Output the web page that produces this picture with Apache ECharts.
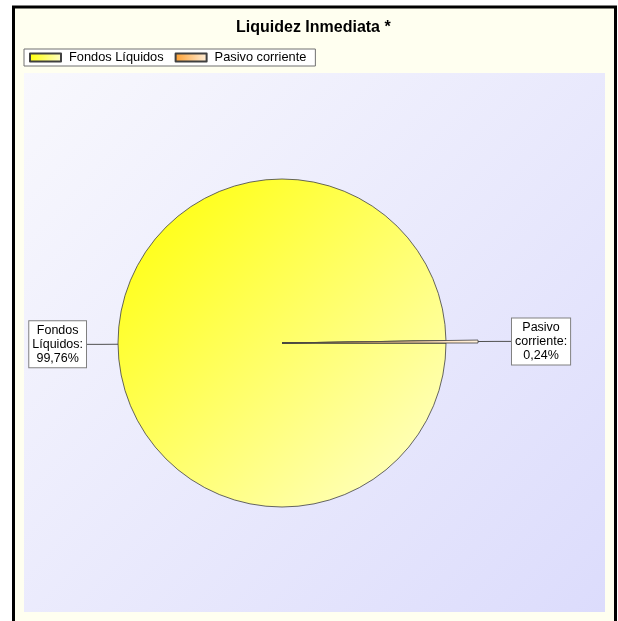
<!DOCTYPE html>
<html>
<head>
<meta charset="utf-8">
<script src="https://cdn.jsdelivr.net/npm/echarts@6/dist/echarts.min.js"></script>
<style>
  html, body { margin: 0; padding: 0; background: #ffffff; }
  #chart { width: 618px; height: 621px; }
</style>
</head>
<body>
<div id="chart"></div>
<script>
// chart data
const categories = ['Fondos Líquidos', 'Pasivo corriente']
const shares = [99.76, 0.24]

const fondosColor = new echarts.graphic.LinearGradient(0, 0, 1, 1, [
  { offset: 0, color: '#ffff00' },
  { offset: 1, color: '#ffffd0' }
])
const pasivoColor = new echarts.graphic.LinearGradient(0, 0, 1, 0, [
  { offset: 0, color: '#ffa030' },
  { offset: 1, color: '#fff0dc' }
])
const sliceColors = [fondosColor, pasivoColor]

// one rich token per line so each line can be centred inside the box
function fmtLabel(p) {
  const lines = [p.name.split(' ')[0], p.name.split(' ')[1] + ':', p.value.toFixed(2).replace('.', ',') + '%']
  return lines.map(s => '{c|' + s + '}').join('\n')
}

const labelBox = {
  color: '#000',
  fontSize: 12.5,
  fontFamily: 'Liberation Sans, Arial, sans-serif',
  lineHeight: 14,
  backgroundColor: '#ffffff',
  borderColor: '#808080',
  borderWidth: 1,
  padding: [2, 3, 2, 3],
  distanceToLabelLine: 0,
  formatter: fmtLabel,
  rich: {
    c: { align: 'center', fontSize: 12.5, lineHeight: 14, color: '#000' }
  }
}

const chart = echarts.init(document.getElementById('chart'))

chart.setOption({
  animation: false,
  graphic: [
    {
      type: 'rect', z: -10,
      shape: { x: 13.5, y: 7, width: 602, height: 630 },
      style: { fill: '#fffff0', stroke: '#000', lineWidth: 3 }
    },
    {
      type: 'rect', z: -9,
      shape: { x: 24, y: 73, width: 581, height: 539 },
      style: {
        fill: new echarts.graphic.LinearGradient(0, 0, 1, 1, [
          { offset: 0, color: '#f8f8fd' },
          { offset: 1, color: '#dcdcfc' }
        ])
      }
    }
  ],
  title: {
    text: 'Liquidez Inmediata *',
    left: 236,
    top: 20,
    padding: 0,
    textStyle: { fontSize: 16, fontWeight: 'bold', color: '#000', fontFamily: 'Liberation Sans, Arial, sans-serif' }
  },
  legend: {
    left: 24,
    top: 49,
    orient: 'horizontal',
    icon: 'rect',
    itemWidth: 31,
    itemHeight: 8,
    itemGap: 11,
    padding: [2, 9, 2, 5],
    backgroundColor: '#ffffff',
    borderColor: '#707070',
    borderWidth: 1,
    borderRadius: 0,
    data: categories,
    textStyle: { fontSize: 12.8, color: '#000', fontFamily: 'Liberation Sans, Arial, sans-serif', padding: [0, 0, 0, 3] }
  },
  series: [
    {
      type: 'pie',
      center: [282, 343],
      radius: 164,
      startAngle: 0,
      clockwise: true,
      avoidLabelOverlap: false,
      itemStyle: { borderColor: '#404040', borderWidth: 0.8 },
      label: Object.assign({ show: true, position: 'outside' }, labelBox),
      labelLine: { show: true, length: 16, length2: 16, lineStyle: { color: '#505050', width: 1 } },
      data: categories.map((name, i) => ({
        name,
        value: shares[i],
        itemStyle: { color: sliceColors[i] },
        label: { show: i === 0 },
        labelLine: { show: i === 0 }
      }))
    },
    {
      type: 'pie',
      center: [282, 343],
      radius: 196,
      startAngle: 0,
      clockwise: true,
      silent: true,
      avoidLabelOverlap: false,
      itemStyle: { borderColor: '#404040', borderWidth: 0.8 },
      label: Object.assign({ show: true, position: 'outside' }, labelBox),
      labelLine: { show: true, length: 17, length2: 17, lineStyle: { color: '#505050', width: 1 } },
      data: categories.map((name, i) => ({
        name,
        value: shares[i],
        itemStyle: i === 0 ? { color: 'rgba(0,0,0,0)', borderWidth: 0 } : { color: sliceColors[i] },
        label: { show: i === 1 },
        labelLine: { show: i === 1 }
      }))
    }
  ]
})
</script>
</body>
</html>
